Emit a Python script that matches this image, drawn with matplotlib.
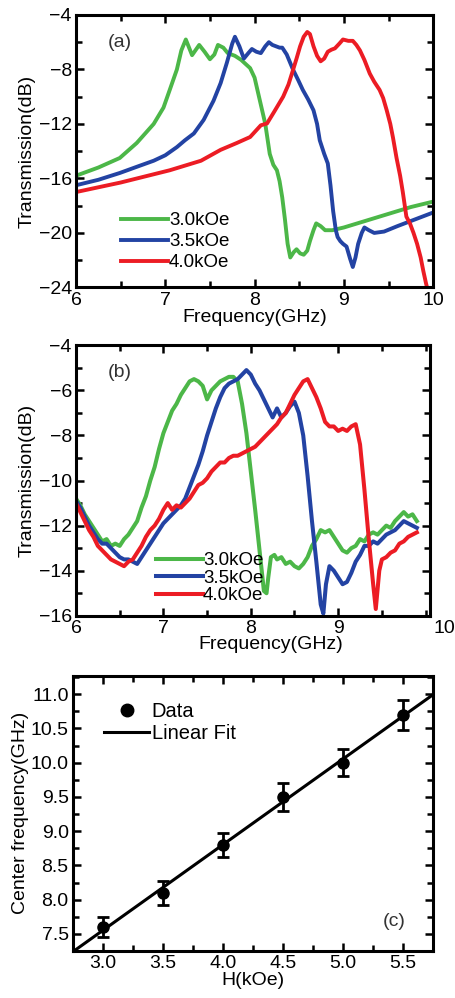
import numpy as np
import matplotlib.pyplot as plt
from matplotlib.lines import Line2D
from matplotlib.ticker import MultipleLocator

plt.rcParams['font.family'] = ['Liberation Sans', 'DejaVu Sans']

GREEN = '#4cb748'
BLUE = '#2343a3'
RED = '#ec1c24'

# ---- panel (a): simulated transmission ----
fa_g = [6.0, 6.25, 6.49, 6.68, 6.87, 6.98, 7.05, 7.13, 7.18, 7.23, 7.3, 7.38, 7.44, 7.5, 7.55, 7.59,
        7.65, 7.7, 7.78, 7.85, 7.9, 7.95, 8.0, 8.06, 8.12, 8.17, 8.21, 8.25, 8.28, 8.31, 8.34, 8.37,
        8.4, 8.44, 8.47, 8.51, 8.55, 8.59, 8.62, 8.66, 8.69, 8.74, 8.79, 8.87, 9.0, 9.25, 9.5, 9.75, 10.0]
ta_g = [-15.8, -15.2, -14.5, -13.4, -12.0, -10.8, -9.5, -8.0, -6.6, -5.8, -6.95, -6.2, -6.7, -7.25,
        -6.9, -6.2, -6.4, -6.8, -7.0, -7.3, -7.6, -7.9, -8.6, -10.3, -12.0, -14.2, -15.0, -15.4,
        -16.2, -17.4, -19.0, -20.8, -21.8, -21.4, -21.2, -21.5, -21.6, -21.3, -20.6, -19.8, -19.3,
        -19.5, -19.8, -19.8, -19.6, -19.1, -18.6, -18.1, -17.7]
fa_b = [6.0, 6.25, 6.49, 6.7, 6.87, 7.0, 7.13, 7.22, 7.32, 7.43, 7.54, 7.62, 7.69, 7.75, 7.78, 7.83,
        7.88, 7.93, 7.97, 8.02, 8.07, 8.12, 8.16, 8.2, 8.24, 8.28, 8.31, 8.36, 8.43, 8.49, 8.54, 8.6,
        8.66, 8.7, 8.73, 8.78, 8.82, 8.85, 8.88, 8.91, 8.93, 8.96, 8.99, 9.03, 9.07, 9.1, 9.13, 9.16,
        9.2, 9.23, 9.28, 9.34, 9.45, 9.6, 9.8, 10.0]
ta_b = [-16.5, -16.1, -15.6, -15.1, -14.7, -14.3, -13.7, -13.2, -12.7, -11.7, -10.3, -9.0, -7.5,
        -6.1, -5.6, -6.3, -7.2, -6.8, -6.5, -6.7, -6.8, -6.3, -6.0, -6.2, -6.3, -6.4, -6.4, -6.9,
        -8.0, -8.8, -9.5, -10.2, -11.0, -12.0, -13.2, -14.2, -14.9, -16.5, -18.4, -19.8, -20.3,
        -20.6, -20.8, -21.0, -21.9, -22.5, -21.8, -20.8, -20.0, -19.6, -19.8, -20.0, -19.9, -19.5,
        -19.0, -18.5]
fa_r = [6.0, 6.5, 7.05, 7.4, 7.62, 7.8, 7.95, 8.07, 8.14, 8.22, 8.32, 8.38, 8.43, 8.47, 8.51, 8.55,
        8.59, 8.62, 8.66, 8.7, 8.74, 8.78, 8.82, 8.86, 8.9, 8.95, 8.99, 9.05, 9.1, 9.14, 9.18, 9.23,
        9.29, 9.34, 9.4, 9.44, 9.48, 9.52, 9.55, 9.59, 9.63, 9.66, 9.7, 9.74, 9.78, 9.82, 9.86,
        9.89, 9.92, 9.95]
ta_r = [-17.0, -16.3, -15.4, -14.7, -13.9, -13.4, -12.96, -12.1, -11.96, -11.1, -10.0, -9.1, -8.05,
        -7.2, -6.3, -5.6, -5.25, -5.4, -6.3, -7.0, -7.4, -7.2, -6.7, -6.55, -6.45, -6.1, -5.8,
        -5.9, -5.9, -6.2, -6.6, -7.3, -8.3, -8.9, -9.5, -10.1, -11.0, -12.0, -13.0, -14.5, -15.8,
        -17.0, -18.8, -19.3, -20.0, -20.8, -21.8, -22.8, -23.7, -24.5]

# ---- panel (b): measured transmission ----
fb_g = [6.0, 6.05, 6.1, 6.15, 6.2, 6.25, 6.3, 6.35, 6.4, 6.45, 6.5, 6.55, 6.6, 6.65, 6.7, 6.75, 6.8,
        6.85, 6.9, 6.95, 7.0, 7.05, 7.1, 7.15, 7.2, 7.25, 7.3, 7.35, 7.4, 7.45, 7.5, 7.55, 7.6, 7.65,
        7.7, 7.75, 7.8, 7.85, 7.9, 7.95, 8.0, 8.05, 8.1, 8.15, 8.18, 8.2, 8.23, 8.27, 8.3, 8.35, 8.4,
        8.45, 8.5, 8.55, 8.6, 8.65, 8.7, 8.75, 8.8, 8.85, 8.9, 8.95, 9.0, 9.05, 9.1, 9.15, 9.2, 9.25,
        9.3, 9.35, 9.4, 9.45, 9.5, 9.55, 9.6, 9.65, 9.7, 9.75, 9.8, 9.85, 9.9]
tb_g = [-10.8, -11.1, -11.5, -11.8, -12.1, -12.4, -12.7, -12.6, -12.9, -12.8, -12.9, -12.6, -12.4,
        -12.1, -11.8, -11.2, -10.7, -10.0, -9.4, -8.6, -7.9, -7.4, -6.9, -6.6, -6.2, -5.9, -5.6, -5.5,
        -5.6, -5.8, -6.4, -6.0, -5.8, -5.6, -5.5, -5.4, -5.4, -5.6, -6.6, -7.9, -9.6, -11.3, -13.1,
        -14.9, -15.0, -14.3, -13.4, -13.3, -13.5, -13.4, -13.7, -13.6, -13.8, -13.9, -13.7, -13.4,
        -12.9, -12.6, -12.2, -12.3, -12.2, -12.5, -12.8, -13.1, -13.2, -13.0, -12.9, -12.6, -12.7,
        -12.4, -12.3, -12.4, -12.2, -12.0, -12.1, -11.8, -11.6, -11.4, -11.6, -11.5, -11.8]
fb_b = [6.0, 6.05, 6.1, 6.15, 6.2, 6.25, 6.3, 6.35, 6.4, 6.45, 6.5, 6.55, 6.6, 6.65, 6.7, 6.75, 6.8,
        6.85, 6.9, 6.95, 7.0, 7.05, 7.1, 7.15, 7.2, 7.25, 7.3, 7.35, 7.4, 7.45, 7.5, 7.55, 7.6, 7.65,
        7.7, 7.75, 7.8, 7.85, 7.9, 7.95, 8.0, 8.05, 8.1, 8.15, 8.2, 8.25, 8.3, 8.35, 8.4, 8.45, 8.5,
        8.55, 8.6, 8.65, 8.7, 8.75, 8.8, 8.83, 8.86, 8.9, 8.95, 9.0, 9.05, 9.1, 9.15, 9.2, 9.25, 9.3,
        9.35, 9.4, 9.45, 9.5, 9.55, 9.6, 9.65, 9.7, 9.75, 9.8, 9.85, 9.9]
tb_b = [-10.9, -11.2, -11.6, -12.0, -12.3, -12.6, -12.8, -12.8, -13.0, -13.2, -13.4, -13.5, -13.5,
        -13.6, -13.7, -13.4, -13.1, -12.8, -12.5, -12.2, -11.9, -11.7, -11.5, -11.3, -11.1, -10.8,
        -10.3, -9.8, -9.3, -8.7, -8.0, -7.4, -6.8, -6.3, -5.9, -5.7, -5.6, -5.5, -5.3, -5.1, -5.3,
        -5.7, -6.0, -6.4, -6.8, -7.2, -6.8, -7.2, -7.0, -6.7, -6.5, -7.0, -8.0, -9.8, -11.8, -13.6,
        -15.5, -15.9, -14.6, -13.8, -14.0, -14.3, -14.6, -14.5, -14.1, -13.6, -13.3, -12.9, -12.9,
        -12.7, -12.8, -12.6, -12.4, -12.3, -12.2, -12.0, -11.8, -11.9, -12.0, -12.1]
fb_r = [6.0, 6.05, 6.1, 6.15, 6.2, 6.25, 6.3, 6.35, 6.4, 6.45, 6.5, 6.55, 6.6, 6.65, 6.7, 6.75, 6.8,
        6.85, 6.9, 6.95, 7.0, 7.05, 7.1, 7.15, 7.2, 7.25, 7.3, 7.35, 7.4, 7.45, 7.5, 7.55, 7.6, 7.65,
        7.7, 7.75, 7.8, 7.85, 7.9, 7.95, 8.0, 8.05, 8.1, 8.15, 8.2, 8.25, 8.3, 8.35, 8.4, 8.45, 8.5,
        8.55, 8.6, 8.65, 8.7, 8.75, 8.8, 8.85, 8.9, 8.95, 9.0, 9.05, 9.1, 9.15, 9.2, 9.25, 9.3, 9.35,
        9.4, 9.43, 9.47, 9.5, 9.55, 9.6, 9.65, 9.7, 9.75, 9.8, 9.85, 9.9]
tb_r = [-11.0, -11.4, -11.8, -12.2, -12.5, -12.9, -13.1, -13.3, -13.5, -13.6, -13.7, -13.8, -13.6,
        -13.5, -13.2, -12.9, -12.5, -12.2, -12.0, -11.7, -11.3, -11.0, -11.3, -11.1, -11.2, -11.0,
        -10.8, -10.5, -10.2, -10.1, -9.9, -9.6, -9.4, -9.2, -9.2, -9.0, -8.9, -8.9, -8.8, -8.7, -8.6,
        -8.5, -8.3, -8.1, -7.9, -7.7, -7.5, -7.2, -7.0, -6.6, -6.2, -5.9, -5.6, -5.5, -5.9, -6.3,
        -6.8, -7.4, -7.6, -7.6, -7.8, -7.7, -7.8, -7.6, -7.5, -8.4, -10.4, -12.6, -14.6, -15.7, -14.0,
        -13.5, -13.4, -13.2, -13.1, -12.8, -12.7, -12.5, -12.4, -12.3]

# ---- panel (c): center frequency vs field ----
H = [3.0, 3.5, 4.0, 4.5, 5.0, 5.5]
fc = [7.6, 8.1, 8.8, 9.5, 10.0, 10.7]
fc_err = [0.15, 0.17, 0.18, 0.2, 0.2, 0.22]

labels = ['3.0kOe', '3.5kOe', '4.0kOe']
colors = [GREEN, BLUE, RED]
FS = 14


def style(ax):
    ax.tick_params(which='both', direction='in', top=True, right=True, width=1.8, labelsize=FS,
                   pad=3)
    ax.tick_params(which='major', length=6)
    ax.tick_params(which='minor', length=4)
    for s in ax.spines.values():
        s.set_linewidth(2.2)


fig = plt.figure(figsize=(4.55, 9.98), dpi=100)

ax1 = fig.add_axes([0.167, 0.712, 0.785, 0.273])
for f, t, c, l in zip([fa_g, fa_b, fa_r], [ta_g, ta_b, ta_r], colors, labels):
    ax1.plot(f, t, color=c, lw=2.8, label=l)
ax1.set_xlim(6, 10)
ax1.set_ylim(-24, -4)
ax1.xaxis.set_major_locator(MultipleLocator(1))
ax1.xaxis.set_minor_locator(MultipleLocator(0.5))
ax1.yaxis.set_major_locator(MultipleLocator(4))
ax1.yaxis.set_minor_locator(MultipleLocator(2))
ax1.set_xlabel('Frequency(GHz)', fontsize=FS, labelpad=0)
ax1.set_ylabel('Transmission(dB)', fontsize=FS, labelpad=2)
ax1.text(6.36, -6.0, '(a)', fontsize=FS, color='#333333', va='center')
style(ax1)
ax1.legend(loc='upper left', bbox_to_anchor=(0.1, 0.31), frameon=False, fontsize=13.5,
           handlelength=2.5, handletextpad=0.05, labelspacing=0.2, borderpad=0)

ax2 = fig.add_axes([0.167, 0.383, 0.778, 0.271])
for f, t, c, l in zip([fb_g, fb_b, fb_r], [tb_g, tb_b, tb_r], colors, labels):
    ax2.plot(f, t, color=c, lw=2.9, label=l)
ax2.set_xlim(6, 10.05)
ax2.set_ylim(-16, -4)
ax2.set_xticks([6, 7, 8, 9])
ax2.xaxis.set_minor_locator(MultipleLocator(0.5))
ax2.yaxis.set_major_locator(MultipleLocator(2))
ax2.yaxis.set_minor_locator(MultipleLocator(1))
ax2.set_xlabel('Frequency(GHz)', fontsize=FS, labelpad=0)
ax2.xaxis.set_label_coords(0.55, -0.075)
ax2.set_ylabel('Transmission(dB)', fontsize=FS, labelpad=2)
ax2.text(6.36, -5.2, '(b)', fontsize=FS, color='#333333', va='center')
ax2.text(1.01, -0.015, '10', transform=ax2.transAxes, fontsize=FS, va='top', ha='left')
style(ax2)
ax2.legend(loc='upper left', bbox_to_anchor=(0.2, 0.27), frameon=False, fontsize=13.5,
           handlelength=2.5, handletextpad=0.0, labelspacing=0.02, borderpad=0)

ax3 = fig.add_axes([0.160, 0.047, 0.792, 0.276])
k, b = np.polyfit(H, fc, 1)
xf = np.array([2.75, 5.75])
ax3.plot(xf, k * xf + b, color='black', lw=2.2)
ax3.errorbar(H, fc, yerr=fc_err, fmt='o', color='black', ms=8, capsize=4, elinewidth=2,
             capthick=2)
ax3.set_xlim(2.75, 5.75)
ax3.set_ylim(7.25, 11.27)
ax3.xaxis.set_major_locator(MultipleLocator(0.5))
ax3.xaxis.set_minor_locator(MultipleLocator(0.25))
ax3.yaxis.set_major_locator(MultipleLocator(0.5))
ax3.yaxis.set_minor_locator(MultipleLocator(0.25))
ax3.xaxis.set_major_formatter(lambda v, p: f'{v:.1f}')
ax3.yaxis.set_major_formatter(lambda v, p: f'{v:.1f}')
ax3.set_xlabel('H(kOe)', fontsize=FS, labelpad=0)
ax3.set_ylabel('Center frequency(GHz)', fontsize=FS, labelpad=1)
ax3.text(5.33, 7.68, '(c)', fontsize=FS, color='#333333', va='center')
style(ax3)
handles = [Line2D([], [], ls='none', marker='o', ms=9, color='black'),
           Line2D([], [], color='black', lw=2.2)]
ax3.legend(handles, ['Data', 'Linear Fit'], loc='upper left', bbox_to_anchor=(0.06, 0.94),
           frameon=False, fontsize=14.5, handlelength=2.2, handletextpad=0.15, labelspacing=0.15,
           borderpad=0)

fig.savefig('out.png', dpi=100)
